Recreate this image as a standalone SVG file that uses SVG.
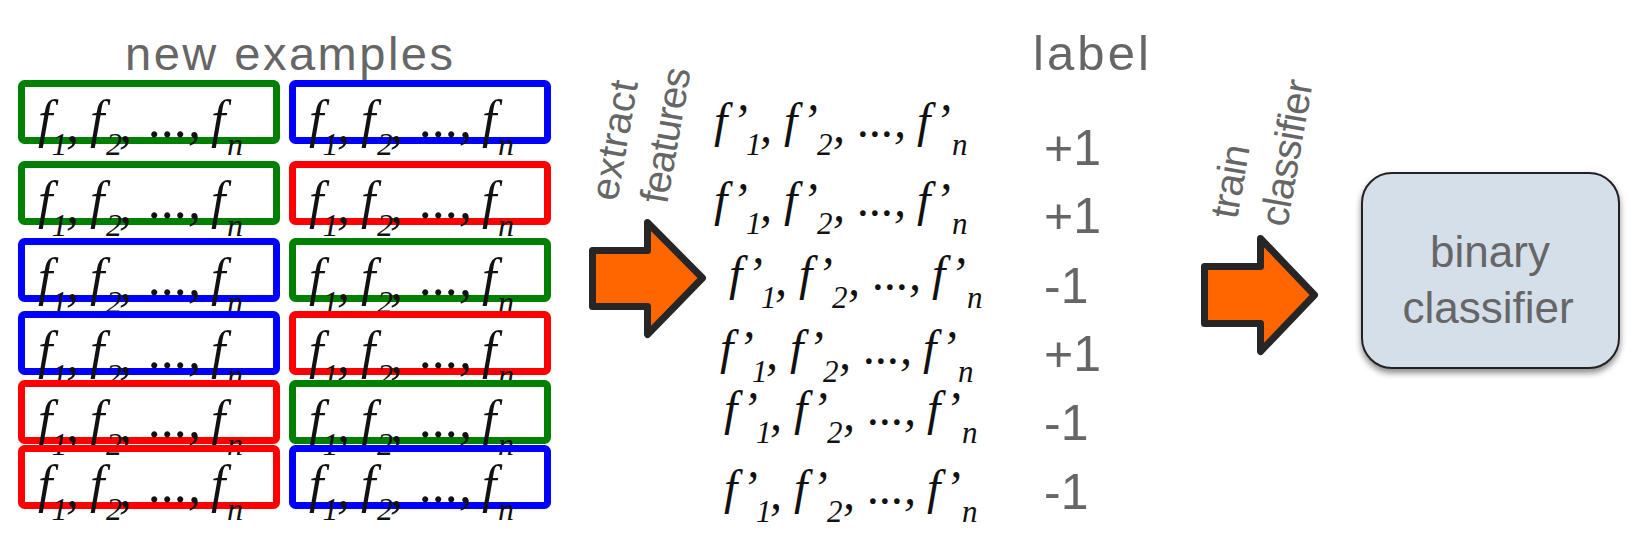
<svg xmlns="http://www.w3.org/2000/svg" width="1646" height="539" viewBox="0 0 1646 539">
<style>
.hd{font-family:"Liberation Sans",Arial,sans-serif;fill:#666666;}
.bx{fill:none;stroke-width:7;}
.g{stroke:#008000;} .b{stroke:#0000FF;} .r{stroke:#FF0000;}
.fm{font-family:"Liberation Serif","Times New Roman",serif;font-style:italic;font-size:52px;fill:#111;}
.sb{font-size:32px;}
.fp{font-family:"Liberation Serif","Times New Roman",serif;font-style:italic;font-size:48px;fill:#111;}
.sp{font-size:31px;}
.lb{font-family:"Liberation Sans",Arial,sans-serif;font-size:50px;fill:#666666;}
.arr{fill:#FF6600;stroke:#262626;stroke-width:7;stroke-linejoin:round;}
.rt{font-family:"Liberation Sans",Arial,sans-serif;font-size:40px;fill:#666666;}
</style>
<defs>
<filter id="sh" x="-10%" y="-10%" width="120%" height="130%">
<feDropShadow dx="0" dy="4" stdDeviation="3" flood-color="#000" flood-opacity="0.45"/>
</filter>
</defs>

<text class="hd" x="125" y="70" font-size="47" textLength="328">new examples</text>
<text class="hd" x="1033" y="70" font-size="49" textLength="116">label</text>

<g id="examples">
<g id="ex1L" transform="translate(18,80)"><rect class="bx g" x="3.5" y="3.5" width="255" height="57" rx="3"/><text class="fm" y="57"><tspan x="20">f</tspan><tspan class="sb" x="33.5" y="75">1</tspan><tspan x="48" y="61">,</tspan><tspan x="72" y="57">f</tspan><tspan class="sb" x="88" y="75">2</tspan><tspan x="101" y="61">,</tspan><tspan x="131" y="57">...,</tspan><tspan x="193" y="57">f</tspan><tspan class="sb" x="209" y="75">n</tspan></text></g>
<g id="ex1R" transform="translate(289,80)"><rect class="bx b" x="3.5" y="3.5" width="255" height="57" rx="3"/><text class="fm" y="57"><tspan x="20">f</tspan><tspan class="sb" x="33.5" y="75">1</tspan><tspan x="48" y="61">,</tspan><tspan x="72" y="57">f</tspan><tspan class="sb" x="88" y="75">2</tspan><tspan x="101" y="61">,</tspan><tspan x="131" y="57">...,</tspan><tspan x="193" y="57">f</tspan><tspan class="sb" x="209" y="75">n</tspan></text></g>
<g id="ex2L" transform="translate(18,161)"><rect class="bx g" x="3.5" y="3.5" width="255" height="57" rx="3"/><text class="fm" y="57"><tspan x="20">f</tspan><tspan class="sb" x="33.5" y="75">1</tspan><tspan x="48" y="61">,</tspan><tspan x="72" y="57">f</tspan><tspan class="sb" x="88" y="75">2</tspan><tspan x="101" y="61">,</tspan><tspan x="131" y="57">...,</tspan><tspan x="193" y="57">f</tspan><tspan class="sb" x="209" y="75">n</tspan></text></g>
<g id="ex2R" transform="translate(289,161)"><rect class="bx r" x="3.5" y="3.5" width="255" height="57" rx="3"/><text class="fm" y="57"><tspan x="20">f</tspan><tspan class="sb" x="33.5" y="75">1</tspan><tspan x="48" y="61">,</tspan><tspan x="72" y="57">f</tspan><tspan class="sb" x="88" y="75">2</tspan><tspan x="101" y="61">,</tspan><tspan x="131" y="57">...,</tspan><tspan x="193" y="57">f</tspan><tspan class="sb" x="209" y="75">n</tspan></text></g>
<g id="ex3L" transform="translate(18,238)"><rect class="bx b" x="3.5" y="3.5" width="255" height="57" rx="3"/><text class="fm" y="57"><tspan x="20">f</tspan><tspan class="sb" x="33.5" y="75">1</tspan><tspan x="48" y="61">,</tspan><tspan x="72" y="57">f</tspan><tspan class="sb" x="88" y="75">2</tspan><tspan x="101" y="61">,</tspan><tspan x="131" y="57">...,</tspan><tspan x="193" y="57">f</tspan><tspan class="sb" x="209" y="75">n</tspan></text></g>
<g id="ex3R" transform="translate(289,238)"><rect class="bx g" x="3.5" y="3.5" width="255" height="57" rx="3"/><text class="fm" y="57"><tspan x="20">f</tspan><tspan class="sb" x="33.5" y="75">1</tspan><tspan x="48" y="61">,</tspan><tspan x="72" y="57">f</tspan><tspan class="sb" x="88" y="75">2</tspan><tspan x="101" y="61">,</tspan><tspan x="131" y="57">...,</tspan><tspan x="193" y="57">f</tspan><tspan class="sb" x="209" y="75">n</tspan></text></g>
<g id="ex4L" transform="translate(18,311)"><rect class="bx b" x="3.5" y="3.5" width="255" height="57" rx="3"/><text class="fm" y="57"><tspan x="20">f</tspan><tspan class="sb" x="33.5" y="75">1</tspan><tspan x="48" y="61">,</tspan><tspan x="72" y="57">f</tspan><tspan class="sb" x="88" y="75">2</tspan><tspan x="101" y="61">,</tspan><tspan x="131" y="57">...,</tspan><tspan x="193" y="57">f</tspan><tspan class="sb" x="209" y="75">n</tspan></text></g>
<g id="ex4R" transform="translate(289,311)"><rect class="bx r" x="3.5" y="3.5" width="255" height="57" rx="3"/><text class="fm" y="57"><tspan x="20">f</tspan><tspan class="sb" x="33.5" y="75">1</tspan><tspan x="48" y="61">,</tspan><tspan x="72" y="57">f</tspan><tspan class="sb" x="88" y="75">2</tspan><tspan x="101" y="61">,</tspan><tspan x="131" y="57">...,</tspan><tspan x="193" y="57">f</tspan><tspan class="sb" x="209" y="75">n</tspan></text></g>
<g id="ex5L" transform="translate(18,380)"><rect class="bx r" x="3.5" y="3.5" width="255" height="57" rx="3"/><text class="fm" y="57"><tspan x="20">f</tspan><tspan class="sb" x="33.5" y="75">1</tspan><tspan x="48" y="61">,</tspan><tspan x="72" y="57">f</tspan><tspan class="sb" x="88" y="75">2</tspan><tspan x="101" y="61">,</tspan><tspan x="131" y="57">...,</tspan><tspan x="193" y="57">f</tspan><tspan class="sb" x="209" y="75">n</tspan></text></g>
<g id="ex5R" transform="translate(289,380)"><rect class="bx g" x="3.5" y="3.5" width="255" height="57" rx="3"/><text class="fm" y="57"><tspan x="20">f</tspan><tspan class="sb" x="33.5" y="75">1</tspan><tspan x="48" y="61">,</tspan><tspan x="72" y="57">f</tspan><tspan class="sb" x="88" y="75">2</tspan><tspan x="101" y="61">,</tspan><tspan x="131" y="57">...,</tspan><tspan x="193" y="57">f</tspan><tspan class="sb" x="209" y="75">n</tspan></text></g>
<g id="ex6L" transform="translate(18,445)"><rect class="bx r" x="3.5" y="3.5" width="255" height="57" rx="3"/><text class="fm" y="57"><tspan x="20">f</tspan><tspan class="sb" x="33.5" y="75">1</tspan><tspan x="48" y="61">,</tspan><tspan x="72" y="57">f</tspan><tspan class="sb" x="88" y="75">2</tspan><tspan x="101" y="61">,</tspan><tspan x="131" y="57">...,</tspan><tspan x="193" y="57">f</tspan><tspan class="sb" x="209" y="75">n</tspan></text></g>
<g id="ex6R" transform="translate(289,445)"><rect class="bx b" x="3.5" y="3.5" width="255" height="57" rx="3"/><text class="fm" y="57"><tspan x="20">f</tspan><tspan class="sb" x="33.5" y="75">1</tspan><tspan x="48" y="61">,</tspan><tspan x="72" y="57">f</tspan><tspan class="sb" x="88" y="75">2</tspan><tspan x="101" y="61">,</tspan><tspan x="131" y="57">...,</tspan><tspan x="193" y="57">f</tspan><tspan class="sb" x="209" y="75">n</tspan></text></g>
</g>

<g id="features">
<g id="fp1" transform="translate(707,137)"><text class="fp"><tspan x="7" y="0">f’</tspan><tspan class="sp" x="39" y="18">1</tspan><tspan x="53" y="5">,</tspan><tspan x="77" y="0">f’</tspan><tspan class="sp" x="110" y="18">2</tspan><tspan x="126" y="5">,</tspan><tspan x="151" y="0">...,</tspan><tspan x="210" y="0">f’</tspan><tspan class="sp" x="245" y="18">n</tspan></text></g>
<g id="fp2" transform="translate(707,216)"><text class="fp"><tspan x="7" y="0">f’</tspan><tspan class="sp" x="39" y="18">1</tspan><tspan x="53" y="5">,</tspan><tspan x="77" y="0">f’</tspan><tspan class="sp" x="110" y="18">2</tspan><tspan x="126" y="5">,</tspan><tspan x="151" y="0">...,</tspan><tspan x="210" y="0">f’</tspan><tspan class="sp" x="245" y="18">n</tspan></text></g>
<g id="fp3" transform="translate(722,290)"><text class="fp"><tspan x="7" y="0">f’</tspan><tspan class="sp" x="39" y="18">1</tspan><tspan x="53" y="5">,</tspan><tspan x="77" y="0">f’</tspan><tspan class="sp" x="110" y="18">2</tspan><tspan x="126" y="5">,</tspan><tspan x="151" y="0">...,</tspan><tspan x="210" y="0">f’</tspan><tspan class="sp" x="245" y="18">n</tspan></text></g>
<g id="fp4" transform="translate(713,364)"><text class="fp"><tspan x="7" y="0">f’</tspan><tspan class="sp" x="39" y="18">1</tspan><tspan x="53" y="5">,</tspan><tspan x="77" y="0">f’</tspan><tspan class="sp" x="110" y="18">2</tspan><tspan x="126" y="5">,</tspan><tspan x="151" y="0">...,</tspan><tspan x="210" y="0">f’</tspan><tspan class="sp" x="245" y="18">n</tspan></text></g>
<g id="fp5" transform="translate(717,425)"><text class="fp"><tspan x="7" y="0">f’</tspan><tspan class="sp" x="39" y="18">1</tspan><tspan x="53" y="5">,</tspan><tspan x="77" y="0">f’</tspan><tspan class="sp" x="110" y="18">2</tspan><tspan x="126" y="5">,</tspan><tspan x="151" y="0">...,</tspan><tspan x="210" y="0">f’</tspan><tspan class="sp" x="245" y="18">n</tspan></text></g>
<g id="fp6" transform="translate(717,504)"><text class="fp"><tspan x="7" y="0">f’</tspan><tspan class="sp" x="39" y="18">1</tspan><tspan x="53" y="5">,</tspan><tspan x="77" y="0">f’</tspan><tspan class="sp" x="110" y="18">2</tspan><tspan x="126" y="5">,</tspan><tspan x="151" y="0">...,</tspan><tspan x="210" y="0">f’</tspan><tspan class="sp" x="245" y="18">n</tspan></text></g>
</g>

<g id="labels">
<text class="lb" x="1044" y="165">+1</text>
<text class="lb" x="1044" y="233">+1</text>
<text class="lb" x="1044" y="303">-1</text>
<text class="lb" x="1044" y="371">+1</text>
<text class="lb" x="1044" y="440">-1</text>
<text class="lb" x="1044" y="509">-1</text>
</g>

<g id="classifier">
<rect x="1362" y="173" width="257" height="195" rx="30" fill="#D4DFEA" stroke="#222" stroke-width="2" filter="url(#sh)"/>
<text class="hd" font-size="44" text-anchor="middle" x="1490" y="267">binary</text>
<text class="hd" font-size="44" text-anchor="middle" x="1488" y="323">classifier</text>
</g>

<g id="connectors">
<polygon class="arr" points="592.5,250.5 647.5,250.5 647.5,222.5 702.5,278 647.5,334.5 647.5,306.5 592.5,306.5"/>
<text class="rt" transform="translate(617,202) rotate(-80)" textLength="121">extract</text>
<text class="rt" transform="translate(667,205) rotate(-80)" textLength="137">features</text>
<polygon class="arr" points="1204.5,266.5 1260.5,266.5 1260.5,238.5 1314.5,295 1260.5,351.5 1260.5,323.5 1204.5,323.5"/>
<text class="rt" transform="translate(1237,220) rotate(-80)" textLength="74">train</text>
<text class="rt" transform="translate(1287,228) rotate(-80)" textLength="148">classifier</text>
</g>
</svg>
